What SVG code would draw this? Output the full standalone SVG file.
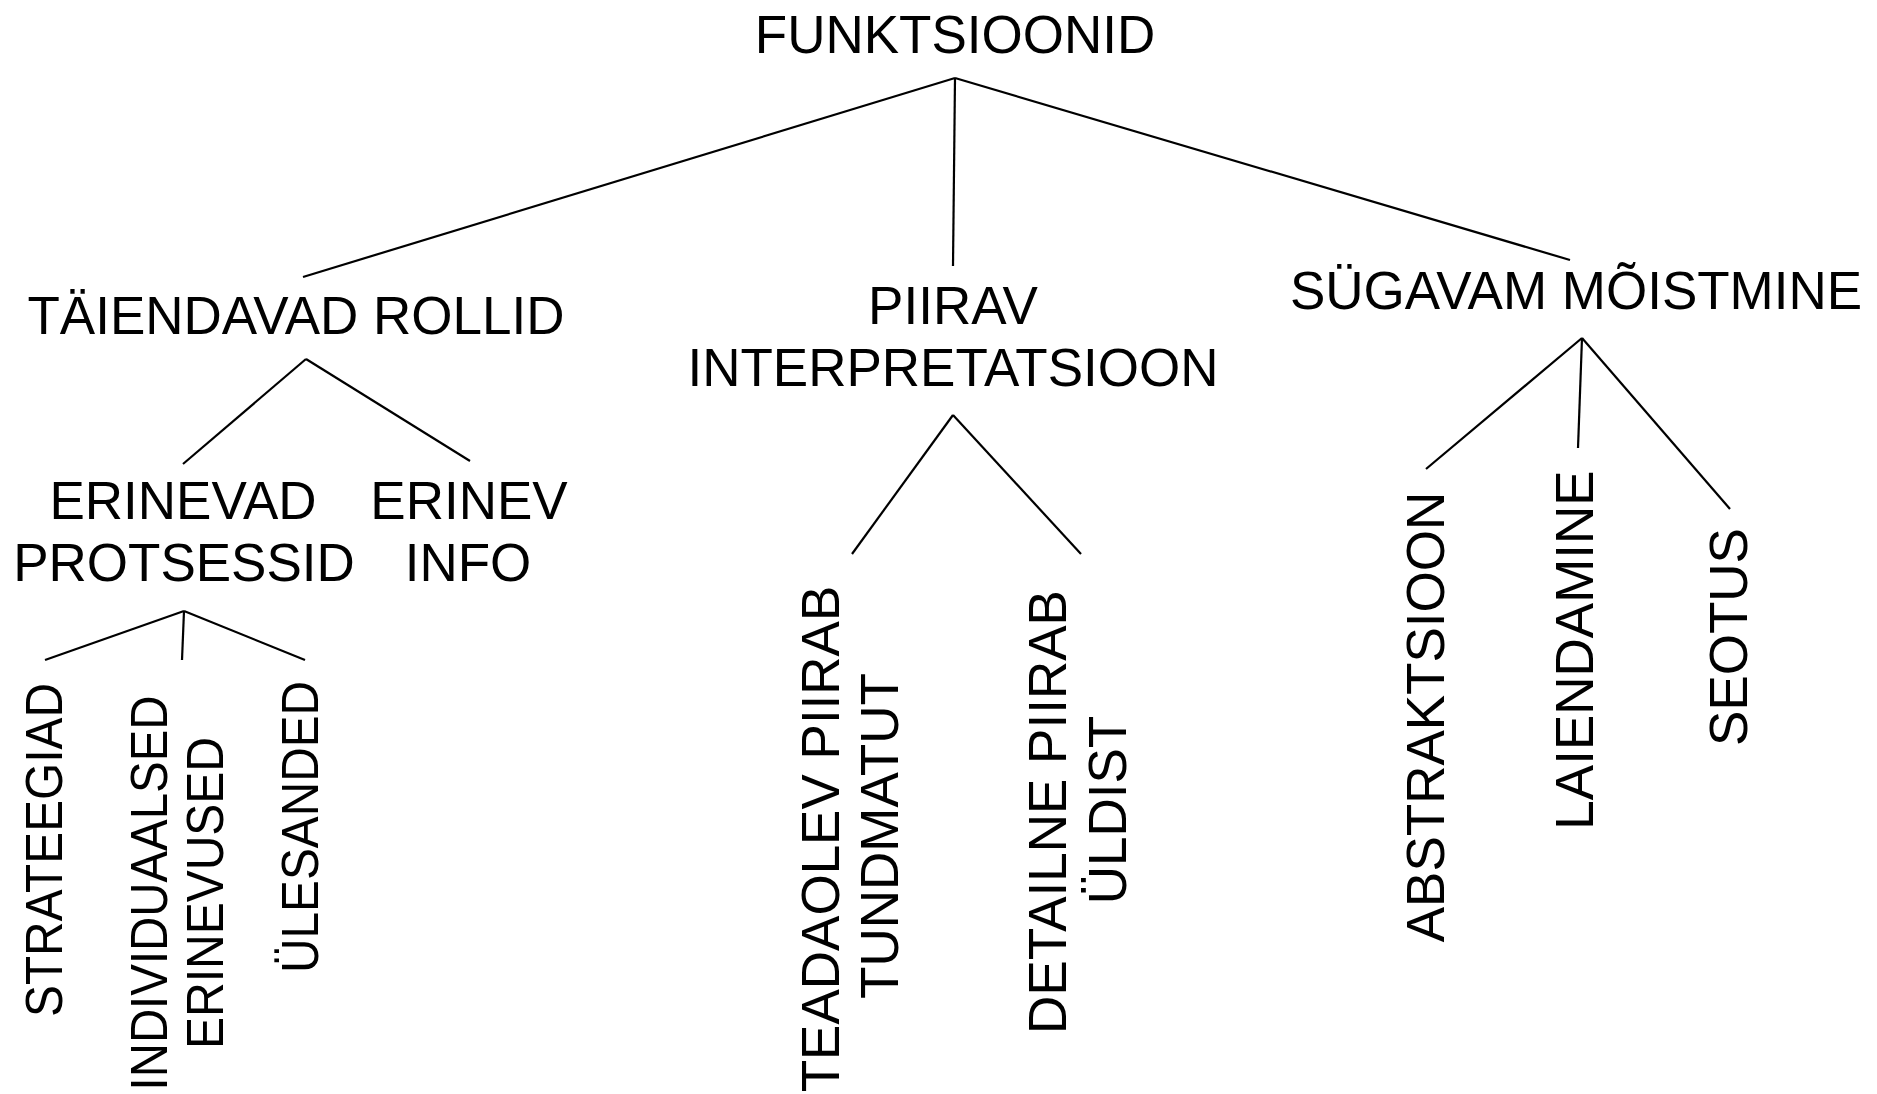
<svg xmlns="http://www.w3.org/2000/svg" width="1877" height="1094" viewBox="0 0 1877 1094">
  <style>
    .lbl { font-family: "Liberation Sans", Arial, sans-serif; font-size: 53px; fill: #000; text-anchor: middle; }
    .sm { font-size: 51px; }
    .edge { stroke: #000; stroke-width: 2.2; fill: none; stroke-linecap: butt; }
  </style>
  <rect width="1877" height="1094" fill="#fff"/>

  <g id="connectors">
    <!-- root to level 1 -->
    <line class="edge" x1="955" y1="78" x2="303" y2="277"/>
    <line class="edge" x1="955" y1="78" x2="953" y2="266"/>
    <line class="edge" x1="955" y1="78" x2="1570" y2="260"/>
    <!-- TÄIENDAVAD ROLLID -->
    <line class="edge" x1="306" y1="359" x2="183" y2="464"/>
    <line class="edge" x1="306" y1="359" x2="470" y2="461"/>
    <!-- ERINEVAD PROTSESSID -->
    <line class="edge" x1="184" y1="611" x2="45" y2="660"/>
    <line class="edge" x1="184" y1="611" x2="182" y2="660"/>
    <line class="edge" x1="184" y1="611" x2="305" y2="660"/>
    <!-- PIIRAV INTERPRETATSIOON -->
    <line class="edge" x1="953" y1="415" x2="852" y2="554"/>
    <line class="edge" x1="953" y1="415" x2="1081" y2="554"/>
    <!-- SÜGAVAM MÕISTMINE -->
    <line class="edge" x1="1582" y1="338" x2="1426" y2="469"/>
    <line class="edge" x1="1582" y1="338" x2="1578" y2="448"/>
    <line class="edge" x1="1582" y1="338" x2="1730" y2="509"/>
  </g>

  <g id="funktsioonid"><text class="lbl" x="955" y="53">FUNKTSIOONID</text></g>

  <g id="taiendavad-rollid"><text class="lbl" x="296" y="334">TÄIENDAVAD ROLLID</text></g>
  <g id="piirav-interpretatsioon">
    <text class="lbl" x="953" y="324">PIIRAV</text>
    <text class="lbl" x="953" y="386">INTERPRETATSIOON</text>
  </g>
  <g id="sugavam-moistmine"><text class="lbl" x="1576" y="309">SÜGAVAM MÕISTMINE</text></g>

  <g id="erinevad-protsessid">
    <text class="lbl" x="183" y="519">ERINEVAD</text>
    <text class="lbl" x="184" y="581">PROTSESSID</text>
  </g>
  <g id="erinev-info">
    <text class="lbl" x="469" y="519">ERINEV</text>
    <text class="lbl" x="468" y="581">INFO</text>
  </g>

  <g id="strateegiad">
    <text class="lbl sm" transform="translate(62 850) rotate(-90)" textLength="334" lengthAdjust="spacingAndGlyphs">STRATEEGIAD</text>
  </g>
  <g id="individuaalsed-erinevused">
    <text class="lbl sm" transform="translate(167 893) rotate(-90)" textLength="395" lengthAdjust="spacingAndGlyphs">INDIVIDUAALSED</text>
    <text class="lbl sm" transform="translate(223 893) rotate(-90)" textLength="312" lengthAdjust="spacingAndGlyphs">ERINEVUSED</text>
  </g>
  <g id="ulesanded">
    <text class="lbl sm" transform="translate(318 827) rotate(-90)" textLength="292" lengthAdjust="spacingAndGlyphs">ÜLESANDED</text>
  </g>

  <g id="teadaolev-piirab-tundmatut">
    <text class="lbl" transform="translate(839 839) rotate(-90)">TEADAOLEV PIIRAB</text>
    <text class="lbl" transform="translate(898 836) rotate(-90)">TUNDMATUT</text>
  </g>
  <g id="detailne-piirab-uldist">
    <text class="lbl" transform="translate(1066 812) rotate(-90)">DETAILNE PIIRAB</text>
    <text class="lbl" transform="translate(1126 810) rotate(-90)">ÜLDIST</text>
  </g>

  <g id="abstraktsioon"><text class="lbl" transform="translate(1444 717) rotate(-90)">ABSTRAKTSIOON</text></g>
  <g id="laiendamine"><text class="lbl" transform="translate(1593 650) rotate(-90)">LAIENDAMINE</text></g>
  <g id="seotus"><text class="lbl" transform="translate(1747 637) rotate(-90)">SEOTUS</text></g>
</svg>
